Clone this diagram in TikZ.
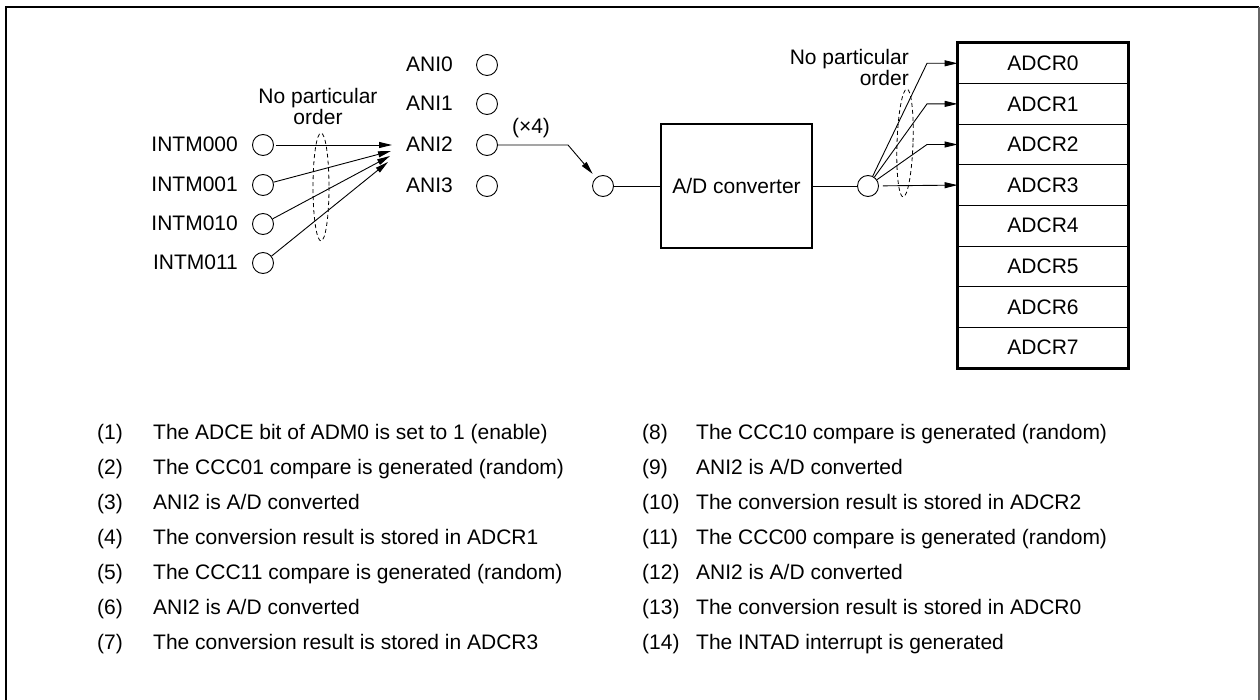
\documentclass[tikz,border=0pt]{standalone}
\usepackage{fontspec}
\setmainfont{Liberation Sans}
\usetikzlibrary{arrows.meta,calc}
\newcommand\fs{\fontsize{21}{21}\selectfont}
\tikzset{
  port/.style={circle, draw, minimum size=21pt, inner sep=0pt, line width=0.9pt},
  lbl/.style={inner sep=0pt, font=\fs},
  arr/.style={-{Triangle[length=13pt,width=6pt]}, line width=0.9pt},
  ln/.style={line width=0.9pt},
  reg/.style={draw, line width=0.9pt, minimum width=170pt, minimum height=40.6pt, inner sep=0pt, font=\fs},
  dsh/.style={draw, line width=0.8pt, dash pattern=on 4pt off 3pt},
  thick box/.style={draw, line width=2.6pt},
}
\begin{document}
\begin{tikzpicture}[x=1pt,y=-1pt]
\useasboundingbox (0,0) rectangle (1260,700);
% frame
\draw[line width=2.4pt] (6,701) -- (6,7) -- (1259,7);
\draw[line width=1.4pt, black!60] (1259,7) -- (1259,701);

% INTM inputs
\foreach \n/\y/\t in {0/145/INTM000,1/185/INTM001,2/224/INTM010,3/263/INTM011}{
  \node[port] (i\n) at (263,\y) {};
  \node[lbl, anchor=base east] (il\n) at (238,\y+7) {\t};
}
% ANI pins
\foreach \n/\y in {0/65,1/104,2/145,3/186}{
  \node[port] (a\n) at (487,\y) {};
  \node[lbl, anchor=base east] (al\n) at (453,\y+7) {ANI\n};
}
% tips at ANI2
\coordinate (t0) at (392,145);
\coordinate (t1) at (391,151);
\coordinate (t2) at (390,156);
\coordinate (t3) at (388,162);
\draw[arr, shorten <=2pt] (i0) -- (t0);
\draw[arr] (i1) -- (t1);
\draw[arr] (i2) -- (t2);
\draw[arr] (i3) -- (t3);
\draw[dsh] (321,187) ellipse [x radius=8, y radius=54];
\node[lbl, align=center] (npo1) at (318,106) {No particular\\order};

% (x4) selection
\node[port] (s1) at (603,186) {};
\coordinate (k1) at (568,145);
\draw[arr, shorten >=5pt] (a2.east) -- (k1) -- (s1);
\node[lbl] (x4) at (531,128) {(×4)};

% A/D converter
\node[thick box, minimum width=151pt, minimum height=124pt, inner sep=0pt, font=\fs] (adc) at (736.5,186) {A/D converter};
\draw[ln] (s1) -- (adc.west |- s1);
\node[port] (s2) at (868,186) {};
\draw[ln] (adc.east |- s2) -- (s2);

% registers
\foreach \k in {0,...,7}{
  \node[reg] (r\k) at (1043,{63.3+40.6*\k}) {ADCR\k};
}
\draw[line width=2.6pt] (r0.north west) rectangle (r7.south east);

% fan out
\foreach \k in {0,1,2}{
  \coordinate (b\k) at (927,{63.3+40.6*\k});
  \draw[arr] (s2) -- (b\k) -- (r\k.west);
}
\draw[arr, shorten <=4pt] (s2) -- (r3.west);
\draw[dsh, rotate around={-2:(905,143)}] (905,143) ellipse [x radius=8, y radius=54];
\node[lbl, align=right, anchor=east] (npo2) at (909,67) {No particular\\order};

% list
\foreach \i/\t [count=\c from 0] in {
  1/{The ADCE bit of ADM0 is set to 1 (enable)},
  2/{The CCC01 compare is generated (random)},
  3/{ANI2 is A/D converted},
  4/{The conversion result is stored in ADCR1},
  5/{The CCC11 compare is generated (random)},
  6/{ANI2 is A/D converted},
  7/{The conversion result is stored in ADCR3}}{
  \node[lbl, anchor=base west] (ln\i) at (97,{439+35*\c}) {(\i)};
  \node[lbl, anchor=base west] (lt\i) at (153,{439+35*\c}) {\t};
}
\foreach \i/\t [count=\c from 0] in {
  8/{The CCC10 compare is generated (random)},
  9/{ANI2 is A/D converted},
  10/{The conversion result is stored in ADCR2},
  11/{The CCC00 compare is generated (random)},
  12/{ANI2 is A/D converted},
  13/{The conversion result is stored in ADCR0},
  14/{The INTAD interrupt is generated}}{
  \node[lbl, anchor=base west] (rn\i) at (642,{439+35*\c}) {(\i)};
  \node[lbl, anchor=base west] (rt\i) at (696,{439+35*\c}) {\t};
}
\end{tikzpicture}
\end{document}
